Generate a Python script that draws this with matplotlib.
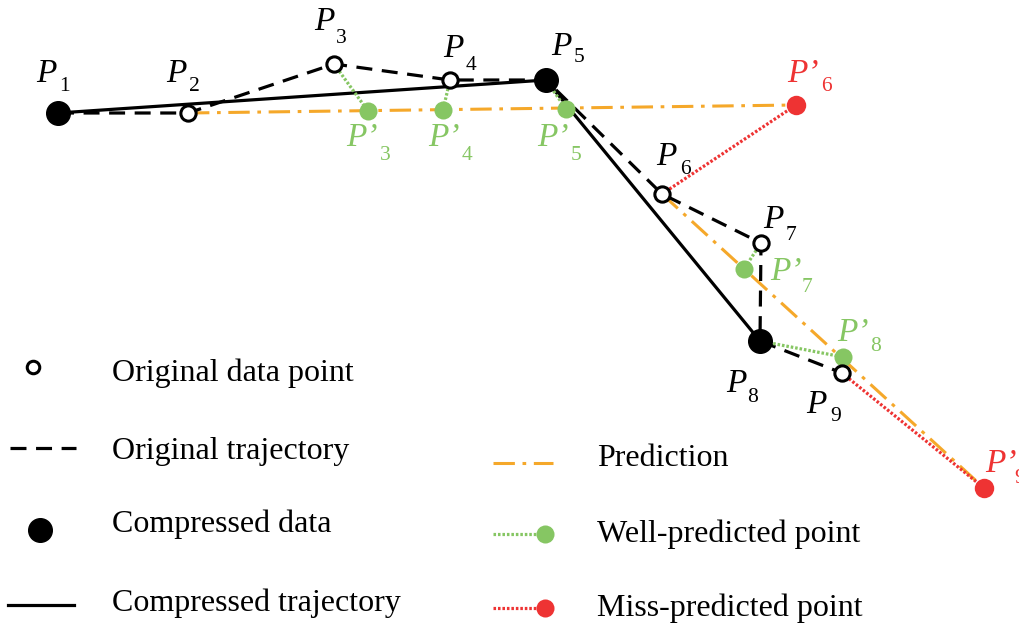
import matplotlib
matplotlib.use("Agg")
import matplotlib.pyplot as plt

# Original trajectory points P1..P9 (diagram coordinates, y downward)
orig_names = ["1", "2", "3", "4", "5", "6", "7", "8", "9"]
orig_x = [58, 188, 334, 450, 546, 662, 761, 760, 842]
orig_y = [113, 113, 64, 80, 80, 194, 243, 341, 373]
compressed_idx = [0, 4, 7]  # P1, P5, P8

# Predicted points P'3..P'9
pred_names = ["3", "4", "5", "6", "7", "8", "9"]
pred_x = [368, 443, 566, 796, 744, 843, 984]
pred_y = [111, 110, 109, 105, 269, 357, 488]
pred_ok = [True, True, True, False, True, True, False]

# prediction lines: (start original index, end predicted index)
pred_lines = [(1, 3), (5, 6)]

ORANGE = "#F5A82A"
GREEN = "#86C663"
RED = "#EE3333"
SERIF = ["Liberation Serif", "DejaVu Serif"]

fig = plt.figure(figsize=(10.2, 6.28), dpi=100)
ax = fig.add_axes([0, 0, 1, 1])
ax.set_xlim(0, 1020)
ax.set_ylim(628, 0)
ax.axis("off")

lw = 2.3
# compressed trajectory
cx = [orig_x[i] for i in compressed_idx]
cy = [orig_y[i] for i in compressed_idx]
ax.plot(cx, cy, color="black", lw=lw, solid_capstyle="butt", zorder=2)
# original trajectory
ax.plot(orig_x, orig_y, color="black", lw=lw, dashes=(5, 3), zorder=2)
# prediction lines
for s, e in pred_lines:
    ax.plot([orig_x[s], pred_x[e]], [orig_y[s], pred_y[e]], color=ORANGE, lw=2.2,
            dashes=(7, 2.5, 1.2, 2.5), zorder=1)
# dotted connectors
for k, n in enumerate(pred_names):
    oi = orig_names.index(n)
    col = GREEN if pred_ok[k] else RED
    ax.plot([orig_x[oi], pred_x[k]], [orig_y[oi], pred_y[k]], color=col, lw=2.3,
            dashes=(0.8, 0.6), zorder=3)
    ax.plot(pred_x[k], pred_y[k], "o", color=col, ms=13 if pred_ok[k] else 14,
            mec="none", zorder=4)
# original points
for i in range(len(orig_x)):
    if i in compressed_idx:
        ax.plot(orig_x[i], orig_y[i], "o", color="black", ms=17, zorder=5)
    else:
        ax.plot(orig_x[i], orig_y[i], "o", mfc="white", mec="black", mew=2.2,
                ms=11, zorder=5)

# labels
orig_lab = [(36, 82, 59, 91), (166, 82, 189, 91), (314, 30, 336, 43),
            (443, 57, 466, 70), (551, 55, 574, 62), (656, 165, 680, 174),
            (763, 228, 786, 240), (726, 392, 747, 402), (806, 413, 830, 421)]
for n, (px, py, sx, sy) in zip(orig_names, orig_lab):
    ax.text(px, py, "P", fontsize=24, family=SERIF, style="italic",
            ha="left", va="baseline", zorder=6)
    ax.text(sx, sy, n, fontsize=15.5, family=SERIF, ha="left", va="baseline", zorder=6)

pred_lab = [(346, 146, 380, 160), (428, 146, 462, 160), (537, 146, 571, 160),
            (787, 82, 821, 91), (770, 280, 802, 292), (837, 341, 870, 351),
            (985, 472, 1014, 483)]
for k, (n, (px, py, sx, sy)) in enumerate(zip(pred_names, pred_lab)):
    col = GREEN if pred_ok[k] else RED
    ax.text(px, py, "P\u2019", fontsize=24, family=SERIF, style="italic", color=col,
            ha="left", va="baseline", zorder=6)
    ax.text(sx, sy, n, fontsize=15.5, family=SERIF, color=col, ha="left",
            va="baseline", zorder=6)

# legend (left)
fs = 23
leg_left = ["Original data point", "Original trajectory", "Compressed data",
            "Compressed trajectory"]
ly = [373, 451, 524, 603]
ax.plot(33, ly[0] - 6, "o", mfc="white", mec="black", mew=2.2, ms=9)
ax.plot([10, 76], [ly[1] - 3, ly[1] - 3], color="black", lw=lw, dashes=(5, 3))
ax.plot(40, ly[2] + 6, "o", color="black", ms=17)
ax.plot([8, 74], [ly[3] + 2, ly[3] + 2], color="black", lw=lw)
for t, y in zip(leg_left, ly):
    ax.text(112, y, t, fontsize=fs, family=SERIF, ha="left", va="center")

leg_right = ["Prediction", "Well-predicted point", "Miss-predicted point"]
ry = [459, 534, 608]
ax.plot([493, 553], [ry[0] + 4, ry[0] + 4], color=ORANGE, lw=2.2, dashes=(7, 2.5, 1.2, 2.5))
ax.plot([493, 545], [ry[1], ry[1]], color=GREEN, lw=2.3, dashes=(0.8, 0.6))
ax.plot(545, ry[1], "o", color=GREEN, ms=13, mec="none")
ax.plot([493, 545], [ry[2], ry[2]], color=RED, lw=2.3, dashes=(0.8, 0.6))
ax.plot(545, ry[2], "o", color=RED, ms=13, mec="none")
for t, y in zip(leg_right, ry):
    ax.text(597, y, t, fontsize=fs, family=SERIF, ha="left", va="center")

fig.savefig("out.png", dpi=100)
